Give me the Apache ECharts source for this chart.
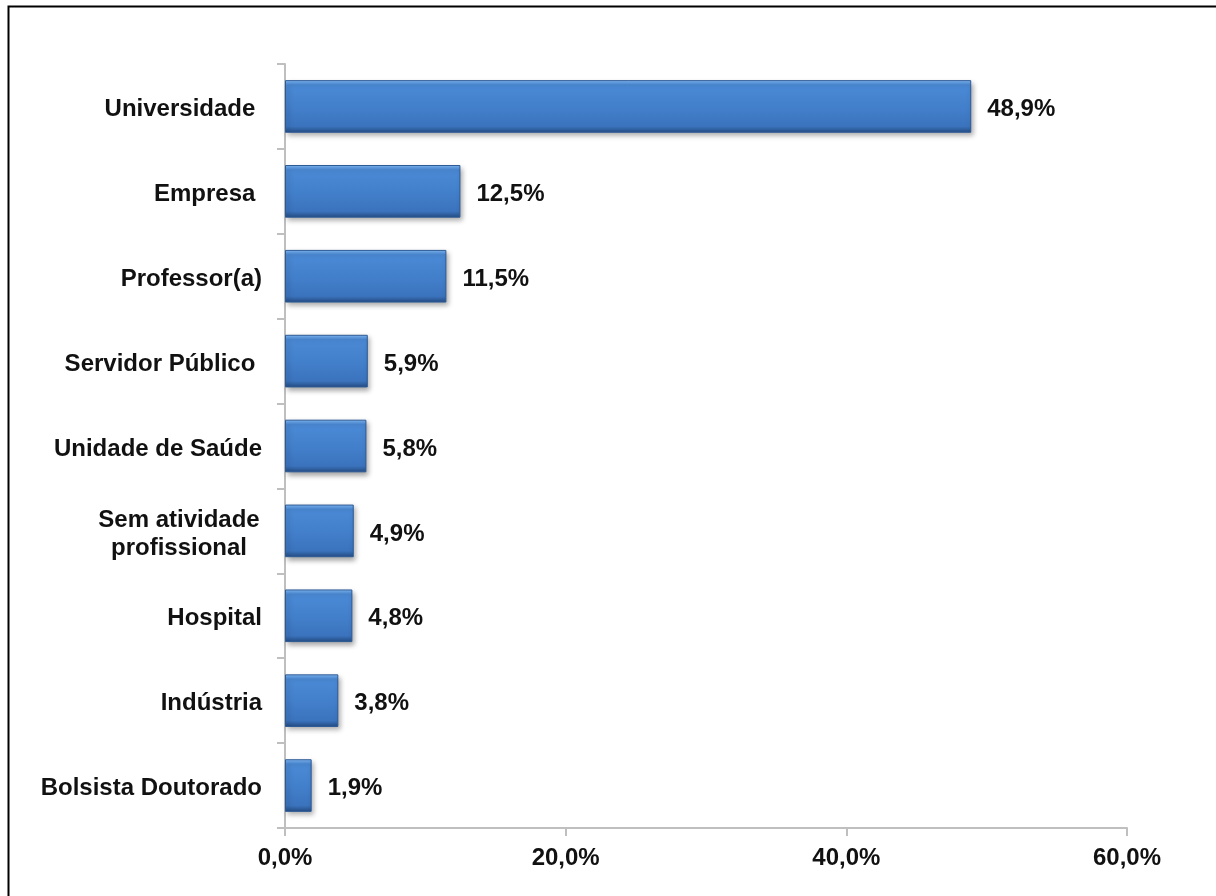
<!DOCTYPE html>
<html>
<head>
<meta charset="utf-8">
<script src="https://cdn.jsdelivr.net/npm/echarts@6/dist/echarts.min.js"></script>
<style>
  html, body { margin: 0; padding: 0; background: #ffffff; }
  #chart { width: 1216px; height: 896px; }
</style>
</head>
<body>
<div id="chart"></div>
<script>
// Occupation categories (top to bottom) and their shares in percent
const categories = [
  'Universidade ',
  'Empresa ',
  'Professor(a)',
  'Servidor Público ',
  'Unidade de Saúde',
  'Sem atividade\nprofissional',
  'Hospital',
  'Indústria',
  'Bolsista Doutorado'
];
const shares = [48.9, 12.5, 11.5, 5.9, 5.8, 4.9, 4.8, 3.8, 1.9];

// Value axis ticks
const axisMin = 0;
const axisMax = 60;
const axisStep = 20;

const fmtPct = v => v.toFixed(1).replace('.', ',') + '%';

const FONT = '"Liberation Sans", Arial, sans-serif';
const FS = 24;

const chart = echarts.init(document.getElementById('chart'), null, { renderer: 'canvas' });

// bevelled blue fill: light top edge, dark bottom edge
const barFill = new echarts.graphic.LinearGradient(0, 0, 0, 1, [
  { offset: 0.00, color: '#8cc0f5' },
  { offset: 0.04, color: '#68a5ea' },
  { offset: 0.09, color: '#4b8ad6' },
  { offset: 0.50, color: '#4380cc' },
  { offset: 0.88, color: '#3b73bd' },
  { offset: 0.94, color: '#2f5f9f' },
  { offset: 1.00, color: '#254b82' }
]);

chart.setOption({
  animation: false,
  backgroundColor: '#ffffff',
  grid: { left: 285, right: 89, top: 64, bottom: 68, containLabel: false },
  xAxis: {
    type: 'value',
    min: axisMin,
    max: axisMax,
    interval: axisStep,
    splitLine: { show: false },
    axisLine: { show: true, lineStyle: { color: '#bfbfbf', width: 2 } },
    axisTick: { show: true, length: 8, lineStyle: { color: '#bfbfbf', width: 2 } },
    axisLabel: {
      margin: 18,
      formatter: fmtPct,
      fontFamily: FONT,
      fontWeight: 'bold',
      fontSize: FS,
      color: '#111111'
    }
  },
  yAxis: {
    type: 'category',
    data: categories,
    inverse: true,
    axisLine: { show: true, lineStyle: { color: '#bfbfbf', width: 2 } },
    axisTick: { show: true, length: 8, lineStyle: { color: '#bfbfbf', width: 2 } },
    axisLabel: {
      margin: 23,
      padding: [6, 0, 0, 0],
      fontFamily: FONT,
      fontWeight: 'bold',
      fontSize: FS,
      color: '#111111',
      lineHeight: 28,
      formatter: function (v) {
        if (v.indexOf('\n') >= 0) {
          return v.split('\n').map(s => '{c|' + s + '}').join('\n');
        }
        return v;
      },
      rich: {
        c: {
          width: 166,
          align: 'center',
          fontFamily: FONT,
          fontWeight: 'bold',
          fontSize: FS,
          color: '#111111',
          lineHeight: 28
        }
      }
    }
  },
  series: [{
    type: 'bar',
    data: shares,
    barWidth: '62%',
    itemStyle: {
      color: barFill,
      borderColor: '#2c5a96',
      borderWidth: 1,
      shadowColor: 'rgba(0,0,0,0.35)',
      shadowBlur: 5,
      shadowOffsetX: 2,
      shadowOffsetY: 3
    },
    label: {
      show: true,
      position: 'right',
      distance: 16,
      offset: [0, 3],
      formatter: p => fmtPct(p.value),
      fontFamily: FONT,
      fontWeight: 'bold',
      fontSize: FS,
      color: '#111111'
    }
  }],
  graphic: [
    // outer frame
    {
      type: 'polyline',
      silent: true,
      shape: { points: [[8.5, 896], [8.5, 6.5], [1216, 6.5]] },
      style: { stroke: '#000000', lineWidth: 2, fill: null }
    }
  ]
});
</script>
</body>
</html>
